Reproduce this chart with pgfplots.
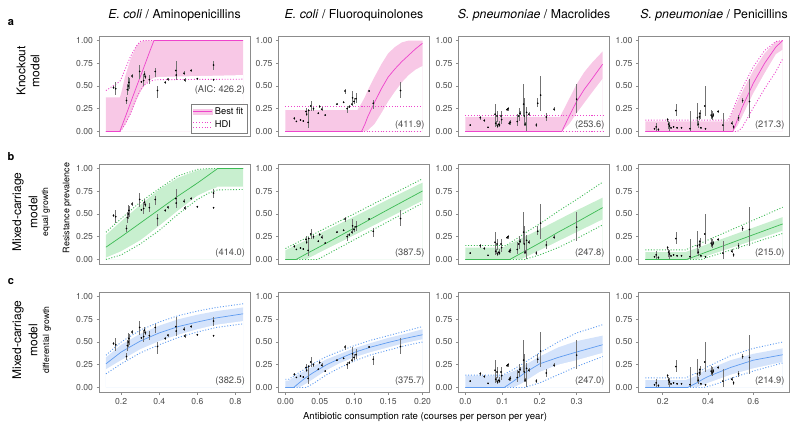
\documentclass[border=0pt]{standalone}
\usepackage{fontspec}
\setmainfont{TeX Gyre Heros}
\usepackage{pgfplots}
\usepackage{pgfplotstable}
\pgfplotsset{compat=1.18}

\definecolor{pinkline}{HTML}{EE44CC}
\definecolor{pinkband}{HTML}{F8C8E6}
\definecolor{greenline}{HTML}{3DBB55}
\definecolor{greenband}{HTML}{C8EFCF}
\definecolor{blueline}{HTML}{5E9BF0}
\definecolor{blueband}{HTML}{D4E3FB}
\tikzset{hdi/.style={line width=0.9pt, dash pattern=on 1pt off 1.8pt}}

% observations: x, estimate, interval
\pgfplotstableread{
x y lo hi
0.160 0.483 0.47 0.50
0.171 0.47 0.40 0.54
0.228 0.34 0.30 0.38
0.232 0.46 0.40 0.52
0.237 0.50 0.45 0.60
0.240 0.54 0.47 0.59
0.257 0.61 0.59 0.63
0.297 0.66 0.58 0.73
0.306 0.546 0.53 0.56
0.318 0.56 0.50 0.63
0.323 0.63 0.60 0.67
0.327 0.60 0.58 0.62
0.348 0.57 0.52 0.62
0.379 0.66 0.60 0.70
0.391 0.45 0.37 0.50
0.431 0.54 0.52 0.56
0.445 0.575 0.56 0.59
0.487 0.67 0.57 0.77
0.489 0.62 0.60 0.64
0.530 0.64 0.62 0.66
0.534 0.565 0.54 0.59
0.567 0.67 0.65 0.69
0.600 0.58 0.57 0.59
0.685 0.73 0.68 0.78
0.685 0.57 0.565 0.575
}\obsA
\pgfplotstableread{
x y lo hi
0.013 0.145 0.13 0.16
0.016 0.11 0.10 0.12
0.022 0.125 0.115 0.135
0.026 0.115 0.105 0.125
0.030 0.22 0.18 0.26
0.031 0.19 0.17 0.21
0.033 0.10 0.04 0.24
0.034 0.23 0.20 0.25
0.037 0.28 0.23 0.34
0.041 0.25 0.23 0.27
0.048 0.20 0.19 0.21
0.050 0.275 0.26 0.29
0.053 0.245 0.22 0.27
0.058 0.18 0.17 0.19
0.075 0.30 0.29 0.31
0.085 0.32 0.31 0.33
0.087 0.445 0.41 0.47
0.090 0.25 0.20 0.28
0.093 0.27 0.26 0.29
0.097 0.30 0.28 0.32
0.098 0.37 0.30 0.45
0.100 0.33 0.30 0.37
0.103 0.36 0.31 0.42
0.122 0.445 0.435 0.455
0.128 0.31 0.25 0.35
0.168 0.45 0.37 0.54
}\obsB
\pgfplotstableread{
x y lo hi
0.013 0.07 0.06 0.08
0.040 0.15 0.13 0.17
0.051 0.12 0.10 0.14
0.061 0.045 0.04 0.05
0.080 0.19 0.05 0.30
0.082 0.09 0.06 0.12
0.085 0.17 0.10 0.23
0.087 0.06 0.04 0.08
0.090 0.08 0.05 0.11
0.092 0.07 0.05 0.10
0.096 0.17 0.08 0.22
0.098 0.13 0.09 0.17
0.112 0.24 0.22 0.26
0.115 0.25 0.23 0.27
0.118 0.09 0.07 0.11
0.121 0.10 0.07 0.13
0.140 0.11 0.06 0.19
0.144 0.17 0.12 0.26
0.147 0.20 0.18 0.22
0.157 0.30 0.17 0.52
0.159 0.17 0.06 0.37
0.161 0.08 0.06 0.10
0.165 0.21 0.00 0.27
0.171 0.19 0.17 0.21
0.191 0.07 0.05 0.09
0.195 0.31 0.27 0.37
0.203 0.40 0.23 0.61
0.218 0.16 0.12 0.20
0.239 0.245 0.22 0.27
0.300 0.355 0.20 0.52
}\obsC
\pgfplotstableread{
x y lo hi
0.164 0.03 0.02 0.04
0.171 0.05 0.01 0.09
0.181 0.02 0.00 0.04
0.222 0.13 0.10 0.15
0.226 0.08 0.03 0.12
0.230 0.06 0.00 0.10
0.236 0.04 0.03 0.05
0.248 0.05 0.04 0.06
0.258 0.23 0.17 0.30
0.263 0.04 0.03 0.05
0.283 0.04 0.03 0.05
0.320 0.03 0.00 0.23
0.353 0.15 0.06 0.31
0.357 0.08 0.04 0.12
0.362 0.16 0.13 0.19
0.364 0.20 0.14 0.24
0.368 0.04 0.03 0.05
0.386 0.28 0.17 0.50
0.389 0.03 0.02 0.04
0.414 0.18 0.14 0.24
0.418 0.16 0.13 0.22
0.423 0.18 0.16 0.20
0.444 0.22 0.20 0.24
0.466 0.07 0.01 0.20
0.505 0.09 0.07 0.11
0.513 0.05 0.03 0.07
0.535 0.15 0.12 0.18
0.553 0.34 0.31 0.37
0.583 0.33 0.15 0.58
}\obsD

% fitted curves: best fit, shaded band, HDI
\pgfplotstableread{
x mid blo bhi dlo dhi
0.120 0 0 0.375 0 0.45
0.193 0 0 0.375 0 0.55
0.200 0.04 0.01 0.42 0.01 0.58
0.220 0.15 0.07 0.60 0.08 0.68
0.250 0.32 0.19 0.80 0.20 0.83
0.280 0.49 0.34 0.94 0.37 0.94
0.300 0.60 0.43 0.98 0.45 0.99
0.320 0.71 0.50 1.00 0.51 1.00
0.350 0.88 0.56 1.00 0.55 1.00
0.372 1.00 0.59 1.00 0.565 1.00
0.400 1.00 0.60 1.00 0.57 1.00
0.840 1.00 0.62 1.00 0.575 1.00
}\fitKa
\pgfplotstableread{
x mid blo bhi dlo dhi
0.000 0 0 0.235 0 0.27
0.105 0 0 0.235 0 0.27
0.111 0 0 0.31 0 0.27
0.116 0.08 0 0.38 0 0.27
0.120 0.16 0.01 0.45 0 0.27
0.130 0.32 0.08 0.60 0 0.27
0.140 0.47 0.20 0.74 0 0.27
0.150 0.60 0.33 0.86 0 0.27
0.160 0.69 0.44 0.93 0 0.27
0.170 0.77 0.54 0.98 0 0.27
0.180 0.84 0.62 1.00 0 0.27
0.190 0.91 0.68 1.00 0 0.27
0.200 0.97 0.72 1.00 0 0.27
}\fitKb
\pgfplotstableread{
x mid blo bhi dlo dhi
0.000 0 0 0.16 0 0.18
0.255 0 0 0.16 0 0.18
0.260 0 0 0.20 0 0.18
0.280 0.17 0.08 0.36 0 0.18
0.300 0.33 0.20 0.52 0 0.18
0.320 0.46 0.31 0.65 0 0.18
0.340 0.57 0.42 0.75 0 0.18
0.370 0.74 0.58 0.88 0 0.18
}\fitKc
\pgfplotstableread{
x mid blo bhi dlo dhi
0.123 0 0 0.11 0 0.125
0.490 0 0 0.11 0 0.125
0.510 0 0 0.22 0 0.24
0.530 0.13 0.06 0.33 0 0.36
0.550 0.26 0.16 0.43 0.04 0.47
0.600 0.53 0.42 0.67 0.26 0.71
0.650 0.75 0.64 0.86 0.47 0.89
0.700 0.93 0.85 0.99 0.66 0.99
0.730 1.00 0.90 1.00 0.80 1.00
}\fitKd
\pgfplotstableread{
x mid blo bhi dlo dhi
0.120 0.135 0.02 0.27 0.00 0.30
0.200 0.25 0.09 0.42 0.05 0.45
0.300 0.40 0.21 0.60 0.17 0.63
0.400 0.55 0.37 0.77 0.32 0.78
0.500 0.70 0.54 0.90 0.50 0.92
0.600 0.84 0.70 0.98 0.66 0.99
0.660 0.93 0.76 1.00 0.73 1.00
0.700 0.99 0.79 1.00 0.76 1.00
0.705 1.00 0.80 1.00 0.765 1.00
0.840 1.00 0.80 1.00 0.77 1.00
}\fitEa
\pgfplotstableread{
x mid blo bhi dlo dhi
0.000 0 0 0.10 0 0.12
0.0156 0 0 0.16 0 0.18
0.030 0.06 0 0.21 0 0.235
0.047 0.128 0.065 0.275 0 0.30
0.100 0.344 0.265 0.47 0.215 0.50
0.150 0.55 0.455 0.66 0.417 0.695
0.200 0.753 0.645 0.845 0.62 0.887
}\fitEb
\pgfplotstableread{
x mid blo bhi dlo dhi
0.000 0 0 0.13 0 0.153
0.100 0 0 0.13 0 0.153
0.110 0 0 0.15 0 0.153
0.120 0 0 0.17 0 0.18
0.150 0.068 0 0.23 0 0.26
0.160 0.09 0.02 0.25 0 0.29
0.200 0.18 0.10 0.33 0.05 0.39
0.250 0.30 0.20 0.435 0.13 0.53
0.300 0.41 0.30 0.54 0.23 0.66
0.370 0.57 0.44 0.68 0.38 0.85
}\fitEc
\pgfplotstableread{
x mid blo bhi dlo dhi
0.123 0 0 0.08 0 0.105
0.300 0 0 0.08 0 0.105
0.305 0 0 0.085 0 0.11
0.350 0.041 0 0.125 0 0.16
0.370 0.06 0.017 0.143 0 0.181
0.400 0.088 0.042 0.17 0.024 0.214
0.500 0.18 0.125 0.26 0.103 0.323
0.600 0.272 0.208 0.35 0.183 0.432
0.730 0.391 0.315 0.466 0.286 0.574
}\fitEd
\pgfplotstableread{
x mid blo bhi dlo dhi
0.120 0.26 0.20 0.33 0.15 0.355
0.200 0.39 0.30 0.47 0.26 0.50
0.300 0.51 0.42 0.59 0.38 0.63
0.400 0.60 0.51 0.68 0.47 0.72
0.500 0.67 0.58 0.75 0.55 0.79
0.600 0.72 0.64 0.80 0.61 0.84
0.700 0.765 0.69 0.84 0.66 0.88
0.840 0.81 0.73 0.88 0.70 0.92
}\fitDa
\pgfplotstableread{
x mid blo bhi dlo dhi
0.000 0 0 0.075 0 0.09
0.005 0 0 0.075 0 0.09
0.012 0 0 0.11 0 0.125
0.020 0.05 0 0.15 0 0.165
0.030 0.11 0.04 0.19 0 0.21
0.040 0.16 0.09 0.23 0.04 0.26
0.060 0.25 0.19 0.31 0.14 0.34
0.080 0.32 0.27 0.37 0.22 0.40
0.100 0.385 0.33 0.43 0.29 0.46
0.125 0.445 0.39 0.49 0.36 0.52
0.150 0.495 0.44 0.545 0.41 0.57
0.175 0.54 0.49 0.59 0.46 0.62
0.200 0.58 0.53 0.64 0.50 0.67
}\fitDb
\pgfplotstableread{
x mid blo bhi dlo dhi
0.000 0 0 0.13 0 0.135
0.100 0 0 0.13 0 0.135
0.105 0 0 0.14 0 0.145
0.130 0.07 0 0.18 0 0.20
0.150 0.13 0.04 0.22 0 0.25
0.160 0.16 0.065 0.245 0 0.275
0.200 0.26 0.17 0.34 0.05 0.38
0.250 0.33 0.25 0.44 0.14 0.50
0.300 0.39 0.30 0.51 0.23 0.60
0.370 0.47 0.38 0.57 0.34 0.69
}\fitDc
\pgfplotstableread{
x mid blo bhi dlo dhi
0.123 0 0 0.08 0 0.105
0.300 0 0 0.08 0 0.105
0.310 0 0 0.09 0 0.115
0.350 0.05 0 0.13 0 0.16
0.380 0.095 0.03 0.18 0 0.20
0.400 0.12 0.05 0.20 0.01 0.23
0.450 0.17 0.095 0.25 0.05 0.29
0.500 0.22 0.14 0.30 0.10 0.35
0.600 0.30 0.21 0.37 0.18 0.43
0.730 0.36 0.28 0.43 0.27 0.50
}\fitDd

\pgfplotsset{
  panel/.style={scale only axis, width=151pt, height=100pt, anchor=south west,
    ymin=-0.05, ymax=1.05,
    ytick={0,0.25,0.5,0.75,1}, yticklabels={0.00,0.25,0.50,0.75,1.00},
    axis line style={black!45, line width=0.6pt},
    tick style={black!45, line width=0.5pt}, tick align=outside,
    major tick length=2.5pt, tick pos=left,
    ticklabel style={font=\fontsize{8.6}{9}\selectfont, text=black!70},
    axis on top},
  colA/.style={xmin=0.0835, xmax=0.8765, xtick={0.2,0.4,0.6,0.8}, xticklabels={0.2,0.4,0.6,0.8}},
  colB/.style={xmin=-0.0101, xmax=0.2102, xtick={0,0.05,0.1,0.15,0.2}, xticklabels={0.00,0.05,0.10,0.15,0.20}},
  colC/.style={xmin=-0.0185, xmax=0.3885, xtick={0,0.1,0.2,0.3}, xticklabels={0.0,0.1,0.2,0.3}},
  colD/.style={xmin=0.093, xmax=0.76, xtick={0.2,0.4,0.6}, xticklabels={0.2,0.4,0.6}},
  nox/.style={xtick=\empty},
}

% band: fill under the upper edge, then paint white under the lower edge
\newcommand{\fit}[3]{%
  \addplot[fill=#3, draw=none, forget plot] table[x=x, y=bhi]{#1} \closedcycle;
  \addplot[fill=white, draw=none, forget plot] table[x=x, y=blo]{#1} \closedcycle;
  \addplot[draw=#2, hdi, forget plot] table[x=x, y=dhi]{#1};
  \addplot[draw=#2, hdi, forget plot] table[x=x, y=dlo]{#1};
  \addplot[draw=#2, line width=0.7pt, forget plot] table[x=x, y=mid]{#1};
}
\newcommand{\obs}[1]{%
  \addplot[only marks, mark=*, mark size=0.6pt, black, forget plot,
    error bars/.cd, y dir=both, y explicit, error mark=none,
    error bar style={line width=0.5pt, black!55}]
    table[x=x, y=y, y error plus expr=\thisrow{hi}-\thisrow{y},
          y error minus expr=\thisrow{y}-\thisrow{lo}]{#1};
}
\newcommand{\aic}[1]{\node[anchor=east, font=\fontsize{9.3}{10}\selectfont, text=black!70]
  at (rel axis cs:0.99,0.11) {#1};}

\begin{document}
\begin{tikzpicture}
\useasboundingbox (0,0) rectangle (800pt,432pt);

% row a
\begin{axis}[panel, colA, nox, at={(99pt,296pt)},
    legend cell align=left,
    legend style={at={(rel axis cs:0.98,0.03)}, anchor=south east, draw=black!50,
      font=\fontsize{9.3}{10}\selectfont, inner sep=1.5pt, row sep=1pt}]
  \fit{\fitKa}{pinkline}{pinkband}
  \obs{\obsA}
  \node[anchor=east, font=\fontsize{9.3}{10}\selectfont, text=black!70]
    at (rel axis cs:0.99,0.46) {(AIC: 426.2)};
  \addlegendimage{legend image code/.code={
      \fill[pinkband] (0pt,-2.5pt) rectangle (19pt,2.5pt);
      \draw[pinkline, line width=0.8pt] (0pt,0pt) -- (19pt,0pt);}}
  \addlegendentry{Best fit}
  \addlegendimage{legend image code/.code={
      \draw[pinkline, hdi]
        (0pt,-2.5pt) -- (19pt,-2.5pt) (0pt,2.5pt) -- (19pt,2.5pt);}}
  \addlegendentry{HDI}
\end{axis}
\begin{axis}[panel, colB, nox, at={(278.5pt,296pt)}]
  \fit{\fitKb}{pinkline}{pinkband}
  \obs{\obsB}
  \aic{(411.9)}
\end{axis}
\begin{axis}[panel, colC, nox, at={(458.5pt,296pt)}]
  \fit{\fitKc}{pinkline}{pinkband}
  \obs{\obsC}
  \aic{(253.6)}
\end{axis}
\begin{axis}[panel, colD, nox, at={(638.5pt,296pt)}]
  \fit{\fitKd}{pinkline}{pinkband}
  \obs{\obsD}
  \aic{(217.3)}
\end{axis}

% row b
\begin{axis}[panel, colA, nox, at={(99pt,168pt)}]
  \fit{\fitEa}{greenline}{greenband}
  \obs{\obsA}
  \aic{(414.0)}
\end{axis}
\begin{axis}[panel, colB, nox, at={(278.5pt,168pt)}]
  \fit{\fitEb}{greenline}{greenband}
  \obs{\obsB}
  \aic{(387.5)}
\end{axis}
\begin{axis}[panel, colC, nox, at={(458.5pt,168pt)}]
  \fit{\fitEc}{greenline}{greenband}
  \obs{\obsC}
  \aic{(247.8)}
\end{axis}
\begin{axis}[panel, colD, nox, at={(638.5pt,168pt)}]
  \fit{\fitEd}{greenline}{greenband}
  \obs{\obsD}
  \aic{(215.0)}
\end{axis}

% row c
\begin{axis}[panel, colA, at={(99pt,40pt)}]
  \fit{\fitDa}{blueline}{blueband}
  \obs{\obsA}
  \aic{(382.5)}
\end{axis}
\begin{axis}[panel, colB, at={(278.5pt,40pt)}]
  \fit{\fitDb}{blueline}{blueband}
  \obs{\obsB}
  \aic{(375.7)}
\end{axis}
\begin{axis}[panel, colC, at={(458.5pt,40pt)}]
  \fit{\fitDc}{blueline}{blueband}
  \obs{\obsC}
  \aic{(247.0)}
\end{axis}
\begin{axis}[panel, colD, at={(638.5pt,40pt)}]
  \fit{\fitDd}{blueline}{blueband}
  \obs{\obsD}
  \aic{(214.9)}
\end{axis}

% column titles
\begin{scope}[every node/.style={font=\fontsize{12.3}{14}\selectfont}]
  \node at (174.5pt,417pt) {\textit{E. coli} / Aminopenicillins};
  \node at (354pt,417pt) {\textit{E. coli} / Fluoroquinolones};
  \node at (534pt,417pt) {\textit{S. pneumoniae} / Macrolides};
  \node at (714pt,417pt) {\textit{S. pneumoniae} / Penicillins};
\end{scope}

% panel letters
\begin{scope}[every node/.style={font=\fontsize{11}{12}\selectfont\bfseries}]
  \node at (11pt,409pt) {a};
  \node at (11pt,275pt) {b};
  \node at (11pt,150pt) {c};
\end{scope}

% row labels
\begin{scope}[every node/.style={rotate=90, font=\fontsize{12}{14}\selectfont}]
  \node at (21pt,361pt) {Knockout};
  \node at (35pt,361pt) {model};
  \node at (18pt,220pt) {Mixed-carriage};
  \node at (33pt,220pt) {model};
  \node at (18pt,92pt) {Mixed-carriage};
  \node at (33pt,92pt) {model};
\end{scope}
\node[rotate=90, font=\fontsize{8.6}{9}\selectfont] at (46pt,220pt) {equal growth};
\node[rotate=90, font=\fontsize{8.6}{9}\selectfont] at (47pt,92pt) {differential growth};
\node[rotate=90, font=\fontsize{9}{10}\selectfont] at (67pt,224pt) {Resistance prevalence};

% x axis title
\node[font=\fontsize{9.6}{10}\selectfont] at (425pt,15pt)
  {Antibiotic consumption rate (courses per person per year)};
\end{tikzpicture}
\end{document}
